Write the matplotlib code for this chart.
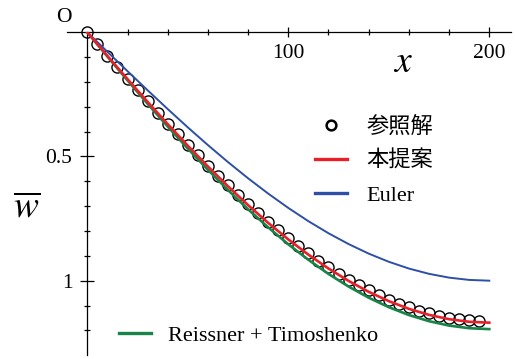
import matplotlib
matplotlib.use('Agg')
import matplotlib.pyplot as plt
from matplotlib.lines import Line2D

plt.rcParams['font.family'] = ['Liberation Serif', 'Noto Sans CJK JP']
plt.rcParams['mathtext.fontset'] = 'stix'

# ---- data ----
x_line = [0, 10, 20, 30, 40, 50, 60, 70, 80, 90, 100,
          110, 120, 130, 140, 150, 160, 170, 180, 190, 200]
euler = [0.0, 0.0785, 0.1564, 0.2334, 0.3090, 0.3827, 0.4540, 0.5225, 0.5878, 0.6494, 0.7071,
         0.7604, 0.8090, 0.8526, 0.8910, 0.9239, 0.9511, 0.9724, 0.9877, 0.9969, 1.0]
proposed = [0.0, 0.0950, 0.1885, 0.2803, 0.3698, 0.4566, 0.5402, 0.6201, 0.6960, 0.7673, 0.8339,
            0.8952, 0.9510, 1.0009, 1.0448, 1.0823, 1.1133, 1.1376, 1.1550, 1.1655, 1.169]
reissner = [0.0, 0.0975, 0.1935, 0.2875, 0.3792, 0.4680, 0.5535, 0.6351, 0.7126, 0.7854, 0.8534,
            0.9159, 0.9728, 1.0237, 1.0685, 1.1067, 1.1383, 1.1630, 1.1808, 1.1914, 1.195]
x_ref = [0, 5, 10, 15, 20, 25, 30, 35, 40, 45, 50, 55, 60, 65, 70, 75, 80, 85, 90, 95,
         100, 105, 110, 115, 120, 125, 130, 135, 140, 145, 150, 155, 160, 165, 170, 175, 180, 185, 190, 195]
ref = [0.0, 0.0473, 0.0944, 0.1410, 0.1874, 0.2333, 0.2786, 0.3235, 0.3677, 0.4112,
       0.4540, 0.4960, 0.5371, 0.5773, 0.6166, 0.6549, 0.6921, 0.7282, 0.7631, 0.7969,
       0.8294, 0.8605, 0.8904, 0.9189, 0.9459, 0.9716, 0.9956, 1.0183, 1.0393, 1.0588,
       1.0767, 1.0929, 1.1076, 1.1206, 1.1317, 1.1413, 1.1491, 1.1552, 1.1595, 1.1621]

x_major = [100, 200]
x_minor = [20, 40, 60, 80, 120, 140, 160, 180]
y_major = [0.5, 1.0]
y_minor = [0.1, 0.2, 0.3, 0.4, 0.6, 0.7, 0.8, 0.9, 1.1, 1.2]

labels = ['参照解', '本提案', 'Euler', 'Reissner + Timoshenko']

RED = '#e8202a'
BLUE = '#2d4fa5'
GREEN = '#178448'

W, H = 515, 359
fig = plt.figure(figsize=(W / 100, H / 100), dpi=100)
ax = fig.add_axes([66.7 / W, 1 - 355.2 / H, (511.4 - 66.7) / W, (355.2 - 32.3) / H])
ax.set_xlim(-10.25, 211)
ax.set_ylim(1.3, 0)

for s in ['top', 'right']:
    ax.spines[s].set_visible(False)
ax.spines['left'].set_position(('data', 0))
ax.spines['bottom'].set_position(('data', 0))
for s in ['left', 'bottom']:
    ax.spines[s].set_linewidth(0.9)

ax.set_xticks(x_major)
ax.set_xticks(x_minor, minor=True)
ax.set_yticks(y_major)
ax.set_yticklabels(['0.5', '1'])
ax.set_yticks(y_minor, minor=True)
ax.tick_params(axis='x', which='major', direction='inout', length=7.2, width=0.9,
               labelsize=15.5, pad=5)
ax.tick_params(axis='y', which='major', direction='inout', length=9.4, width=0.9,
               labelsize=15.5, pad=6)
ax.tick_params(axis='both', which='minor', direction='inout', length=4.7, width=0.9)

# curves
ax.plot(x_ref, ref, ls='none', marker='o', ms=8, mfc='none', mec='black', mew=1.0,
        zorder=3, clip_on=False)
ax.plot(x_line, reissner, color=GREEN, lw=1.9, zorder=4)
ax.plot(x_line, euler, color=BLUE, lw=1.4, zorder=4)
ax.plot(x_line, proposed, color=RED, lw=1.9, zorder=5)

# annotations
ax.text(-0.006, 1.045, 'O', transform=ax.transAxes, ha='center', va='center', fontsize=15.5)
ax.text(0.756, 0.905, r'$x$', transform=ax.transAxes, ha='center', va='center', fontsize=27)
ax.text(-0.0904, 0.455, r'$\overline{w}$', transform=ax.transAxes, ha='center', va='center',
        fontsize=27)

# legends
h1 = [Line2D([], [], ls='none', marker='o', ms=7, mfc='none', mec='black', mew=1.8),
      Line2D([], [], color=RED, lw=2.4),
      Line2D([], [], color=BLUE, lw=2.4)]
leg1 = fig.legend(h1, labels[:3], loc='upper left', bbox_to_anchor=(315 / W, 1 - 116.5 / H),
                  frameon=False, borderpad=0, borderaxespad=0, handlelength=1.45,
                  handletextpad=0.85, labelspacing=0.6, fontsize=16)
h2 = [Line2D([], [], color=GREEN, lw=2.4)]
leg2 = fig.legend(h2, labels[3:], loc='upper left', bbox_to_anchor=(119 / W, 1 - 325 / H),
                  frameon=False, borderpad=0, borderaxespad=0, handlelength=1.45,
                  handletextpad=0.75, fontsize=16)

fig.savefig('out.png', dpi=100)
